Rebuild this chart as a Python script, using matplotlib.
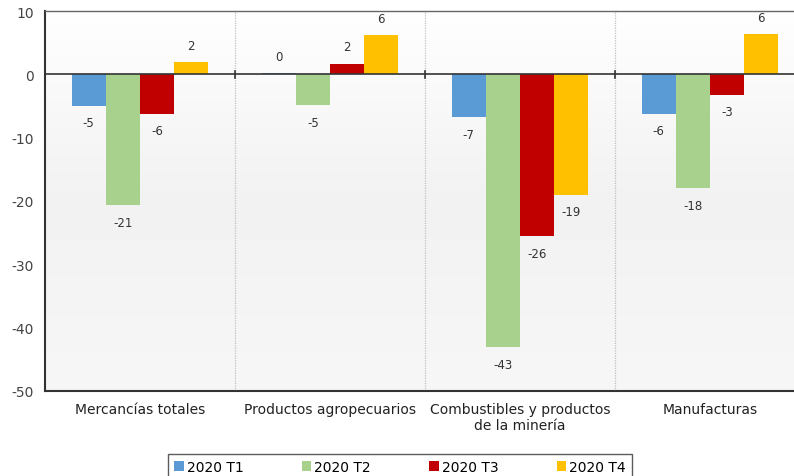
import matplotlib
matplotlib.use("Agg")
import matplotlib.pyplot as plt
import numpy as np
from matplotlib.patches import Patch
from matplotlib.colors import LinearSegmentedColormap

categories = ["Mercancías totales", "Productos agropecuarios",
              "Combustibles y productos\nde la minería", "Manufacturas"]
series_names = ["2020 T1", "2020 T2", "2020 T3", "2020 T4"]
t1 = [-5.0, 0.2, -6.8, -6.2]
t2 = [-20.7, -4.9, -43.1, -18.0]
t3 = [-6.2, 1.7, -25.6, -3.2]
t4 = [1.9, 6.2, -19.0, 6.3]
labels_t1 = ["-5", "0", "-7", "-6"]
labels_t2 = ["-21", "-5", "-43", "-18"]
labels_t3 = ["-6", "2", "-26", "-3"]
labels_t4 = ["2", "6", "-19", "6"]
colors = ["#5b9bd5", "#a9d18e", "#c00000", "#ffc000"]
yticks = [10, 0, -10, -20, -30, -40, -50]

series = [t1, t2, t3, t4]
labels = [labels_t1, labels_t2, labels_t3, labels_t4]

fig = plt.figure(figsize=(7.94, 4.77), dpi=100)
ax = fig.add_axes([45/794, 85/477, 760/794, 380/477])

ax.set_xlim(0, 4)
ax.set_ylim(-50, 10)

# gradient background
grad = np.linspace(0, 1, 256).reshape(-1, 1)
cmap = LinearSegmentedColormap.from_list("bg", ["#ffffff", "#f2f2f2", "#f7f7f7"])
ax.imshow(grad, extent=[0, 4, -50, 10], aspect="auto", cmap=cmap,
          origin="upper", zorder=0)

x = np.arange(len(categories)) + 0.5
w = 0.18
for i, (vals, labs, c) in enumerate(zip(series, labels, colors)):
    xs = x + (i - 1.5) * w
    ax.bar(xs, vals, width=w, color=c, zorder=3, edgecolor="none")
    for xi, v, lab in zip(xs, vals, labs):
        if v >= 0:
            ax.annotate(lab, (xi, v), xytext=(0, 7.5), textcoords="offset points",
                        ha="center", va="bottom", fontsize=8.5, color="#333333")
        else:
            ax.annotate(lab, (xi, v), xytext=(0, -7.5), textcoords="offset points",
                        ha="center", va="top", fontsize=8.5, color="#333333")

# separators
for s in [1, 2, 3]:
    ax.axvline(s, color="#c0c0c0", lw=0.9, ls=(0, (1, 1)), zorder=1)
    ax.plot([s, s], [-0.6, 0.6], color="#333333", lw=1.2, zorder=4)
ax.axhline(0, color="#333333", lw=1.2, zorder=4)

ax.set_yticks(yticks)
ax.set_yticklabels([str(v) for v in yticks], fontsize=10, color="#444444")
ax.set_xticks(x)
ax.set_xticklabels(categories, fontsize=10, color="#222222")
ax.tick_params(axis="x", length=0, pad=8)
ax.tick_params(axis="y", length=0, pad=8)

ax.spines["right"].set_visible(False)
ax.spines["top"].set_color("#666666")
ax.spines["top"].set_linewidth(1.0)
ax.spines["left"].set_color("#333333")
ax.spines["left"].set_linewidth(1.5)
ax.spines["bottom"].set_color("#333333")
ax.spines["bottom"].set_linewidth(1.5)

handles = [Patch(facecolor=c, edgecolor="none") for c in colors]
leg = fig.legend(handles, series_names, loc="upper center",
                 bbox_to_anchor=(400/794, 1 - 448/477), ncol=4, fontsize=10,
                 frameon=True, fancybox=False, edgecolor="#333333",
                 handlelength=0.7, handleheight=0.7, handletextpad=0.2,
                 columnspacing=4.2, borderpad=0.45)
leg.get_frame().set_linewidth(1.0)

fig.savefig("out.png", dpi=100)
